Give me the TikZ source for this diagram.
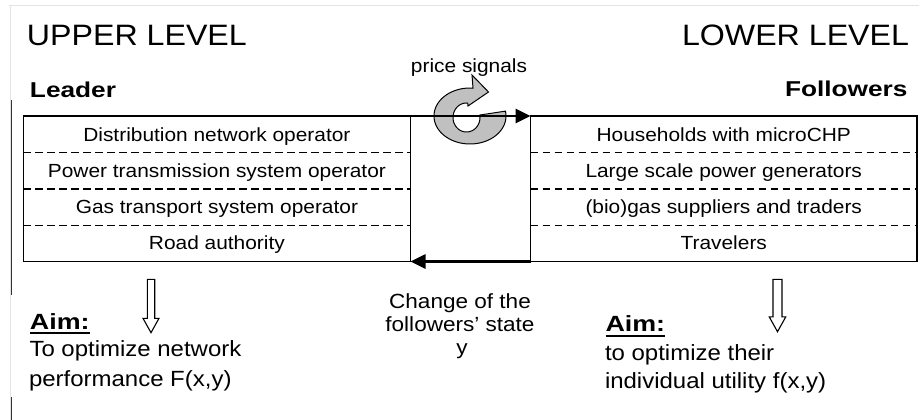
\documentclass[tikz,border=0pt]{standalone}
\usepackage{fontspec}
\setmainfont{Liberation Sans}
\usepackage{graphicx}
\usetikzlibrary{arrows.meta}
\newcommand\hsx[2]{\scalebox{#1}[1]{#2}}
\definecolor{ringgray}{HTML}{C0C0C0}
\definecolor{framegray}{HTML}{E4E4E4}
\begin{document}
\begin{tikzpicture}[x=1pt,y=-1pt,
  lbl/.style={inner sep=0pt, outer sep=0pt},
  big/.style={lbl, font=\fontsize{29.5}{32}\selectfont},
  role/.style={lbl, font=\fontsize{21.5}{24}\selectfont\bfseries},
  rowtxt/.style={lbl, anchor=base, font=\fontsize{19}{22}\selectfont},
  aimtxt/.style={lbl, anchor=base west, font=\fontsize{22}{25}\selectfont},
  aimhead/.style={lbl, anchor=base west, font=\fontsize{22}{25}\selectfont\bfseries},
  chtxt/.style={lbl, anchor=base, font=\fontsize{20.5}{23}\selectfont},
  box/.style={draw, line width=1.6pt, inner sep=0pt, outer sep=0pt, minimum height=145.5pt},
  rowsep/.style={line width=1.2pt, dash pattern=on 7.5pt off 4.5pt},
  flow/.style={line width=2.6pt, -{Triangle[length=15pt,width=14pt]}},
  hollow/.style={draw, line width=1.1pt, fill=white, line join=miter},
  ring/.style={fill=ringgray, draw=black, line width=1pt, line join=miter}
]
\useasboundingbox (0,0) rectangle (919,420);

% page frame remnants
\draw[framegray, line width=1pt] (9,6) -- (919,6);
\draw[framegray, line width=1pt] (10,6) -- (10,420);
\draw[black!80, line width=1.2pt] (11.5,100) -- (11.5,295);
\draw[black!80, line width=1.2pt] (11.5,397) -- (11.5,420);

% titles
\node[big, anchor=base west] (upper) at (27,46) {\hsx{1.09}{UPPER LEVEL}};
\node[big, anchor=base east] (lower) at (909,46) {\hsx{1.09}{LOWER LEVEL}};
\node[role, anchor=base west] (leader) at (30,97) {\hsx{1.22}{Leader}};
\node[role, anchor=base east] (followers) at (907.5,96) {\hsx{1.22}{Followers}};

% boxes
\node[box, minimum width=387.2pt] (lbox) at (216.9,188.75) {};
\node[box, minimum width=386.5pt] (rbox) at (723.75,188.75) {};

\foreach \d in {36.6,73,109.6}{
  \draw[rowsep] ([yshift=-\d pt]lbox.north west) -- ([yshift=-\d pt]lbox.north east);
  \draw[rowsep] ([yshift=-\d pt]rbox.north west) -- ([yshift=-\d pt]rbox.north east);
}

% row texts
\node[rowtxt] (l1) at (216.9,141.0) {\hsx{1.1}{Distribution network operator}};
\node[rowtxt] (l2) at (216.9,177.2) {\hsx{1.1}{Power transmission system operator}};
\node[rowtxt] (l3) at (216.9,213.8) {\hsx{1.1}{Gas transport system operator}};
\node[rowtxt] (l4) at (216.9,249.6) {\hsx{1.1}{Road authority}};
\node[rowtxt] (r1) at (723.75,141.0) {\hsx{1.1}{Households with microCHP}};
\node[rowtxt] (r2) at (723.75,177.2) {\hsx{1.1}{Large scale power generators}};
\node[rowtxt] (r3) at (723.75,213.8) {\hsx{1.1}{(bio)gas suppliers and traders}};
\node[rowtxt] (r4) at (723.75,249.6) {\hsx{1.1}{Travelers}};

% circular arrow
\filldraw[ring]
  plot[domain=0:1, samples=80] ({470+36*cos(10-285*\x)},{116-28*sin(10-285*\x)})
  -- (472,75) -- (488.5,92) -- (468,106)
  -- plot[domain=0:1, samples=60] ({466.5+13.5*cos(-275+285*\x)},{117.5-14.5*sin(-275+285*\x)})
  -- cycle;
\node[rowtxt] (price) at (469,73) {\hsx{1.1}{price signals}};

% flows between the levels
\draw[flow] (lbox.north east) -- (rbox.north west);
\draw[flow] (rbox.south west) -- (lbox.south east);

% hollow down arrows
\draw[hollow, shift={(151,279.3)}] (-3.7,0) -- (3.7,0) -- (3.7,39) -- (8,39) -- (0,53.4) -- (-8,39) -- (-3.7,39) -- cycle;
\draw[hollow, shift={(777.5,279.3)}] (-4.5,0) -- (4.5,0) -- (4.5,37.5) -- (8.3,37.5) -- (0,52.4) -- (-8.3,37.5) -- (-4.5,37.5) -- cycle;

% change of state
\node[chtxt] (ch1) at (460,308.3) {\hsx{1.1}{Change of the}};
\node[chtxt] (ch2) at (460,331.5) {\hsx{1.1}{followers’ state}};
\node[chtxt] (ch3) at (462,354) {\hsx{1.1}{y}};

% aims
\node[aimhead] (aimL) at (30,329) {\hsx{1.22}{Aim:}};
\draw[line width=2pt] ([yshift=-4pt]aimL.base west) -- ([yshift=-4pt]aimL.base east);
\node[aimtxt] (aimL1) at (29.5,356) {\hsx{1.09}{To optimize network}};
\node[aimtxt] (aimL2) at (29,386) {\hsx{1.09}{performance F(x,y)}};

\node[aimhead] (aimR) at (605.5,331) {\hsx{1.22}{Aim:}};
\draw[line width=2pt] ([yshift=-4.5pt]aimR.base west) -- ([yshift=-4.5pt]aimR.base east);
\node[aimtxt] (aimR1) at (605,360) {\hsx{1.09}{to optimize their}};
\node[aimtxt] (aimR2) at (605,388) {\hsx{1.09}{individual utility f(x,y)}};
\end{tikzpicture}
\end{document}
